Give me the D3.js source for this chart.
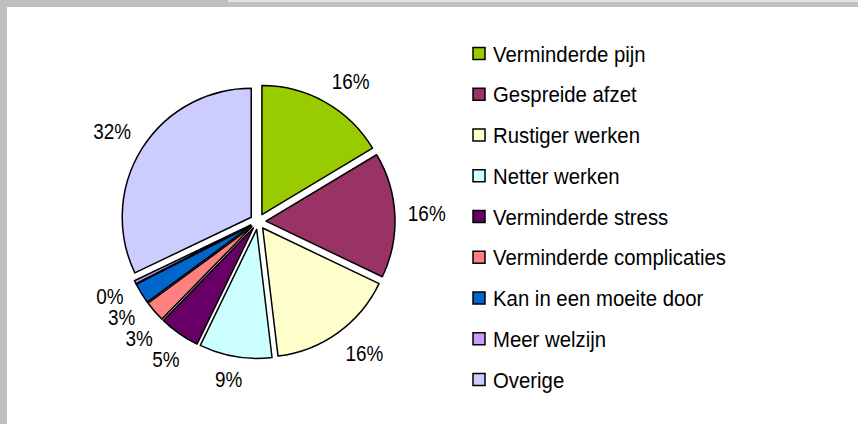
<!DOCTYPE html>
<html>
<head>
<meta charset="utf-8">
<script src="https://cdn.jsdelivr.net/npm/d3@7"></script>
<style>
  html, body { margin: 0; padding: 0; background: #ffffff; }
  svg { display: block; }
  text { font-family: "Liberation Sans", Arial, sans-serif; fill: #000; }
</style>
</head>
<body>
<svg id="chart" width="858" height="424"></svg>
<script>
// ---- data ----
const categories = [
  "Verminderde pijn",
  "Gespreide afzet",
  "Rustiger werken",
  "Netter werken",
  "Verminderde stress",
  "Verminderde complicaties",
  "Kan in een moeite door",
  "Meer welzijn",
  "Overige"
];
const values = [16.4, 15.7, 16.0, 9.1, 5.1, 2.6, 2.6, 0.4, 32.1];
const colors = ["#99cc00", "#993366", "#ffffcc", "#ccffff", "#660066", "#ff8080", "#0066cc", "#cc99ff", "#ccccff"];

// ---- layout ----
const W = 858, H = 424;
const svg = d3.select("#chart");

// frame
svg.append("rect").attr("x", 0).attr("y", 0).attr("width", W).attr("height", 7).attr("fill", "#c0c0c0");
svg.append("rect").attr("x", 0).attr("y", 0).attr("width", 7).attr("height", H).attr("fill", "#c0c0c0");
svg.append("rect").attr("x", 228).attr("y", 0).attr("width", W - 228).attr("height", 2).attr("fill", "#e4e4e4");

const cx = 258, cy = 221.5, R = 129, explode = 8, labelD = 150;
const total = d3.sum(values);
const pie = d3.pie().sort(null).value(d => d)(values);
const arc = d3.arc().innerRadius(0).outerRadius(R);

const g = svg.append("g").attr("transform", `translate(${cx},${cy})`);

g.selectAll("path.slice")
  .data(pie)
  .join("path")
  .attr("class", "slice")
  .attr("d", arc)
  .attr("transform", d => {
    const a = (d.startAngle + d.endAngle) / 2;
    return `translate(${explode * Math.sin(a)},${-explode * Math.cos(a)})`;
  })
  .attr("fill", (d, i) => colors[i])
  .attr("stroke", "#000")
  .attr("stroke-width", 1.5)
  .attr("stroke-linejoin", "round");

const fmt = v => Math.round(v / total * 100) + "%";
const LBL_SX = 0.86, LBL_FS = 22, MIN_GAP = 21;
const clamp = v => Math.max(-1, Math.min(1, v));

const labels = g.selectAll("text.lbl")
  .data(pie)
  .join("text")
  .attr("class", "lbl")
  .attr("text-anchor", "middle")
  .attr("dy", "0.35em")
  .attr("font-size", LBL_FS)
  .text(d => fmt(d.data));

// initial positions
const pos = [];
labels.each(function(d, i) {
  const a = (d.startAngle + d.endAngle) / 2;
  const ux = Math.sin(a), uy = -Math.cos(a);
  const hw = this.getComputedTextLength() * LBL_SX / 2;
  const hh = 10;
  pos[i] = { x: labelD * ux + hw * clamp(2 * ux), y: labelD * uy + hh * clamp(2 * uy), ux, uy };
});
// resolve overlaps on the lower-left side: push labels downward, sliding along their circle
const lowerLeft = pos.filter(p => p.ux < -0.3 && p.uy > 0).sort((a, b) => a.y - b.y);
for (let k = 1; k < lowerLeft.length; k++) {
  const p = lowerLeft[k];
  if (p.y - lowerLeft[k - 1].y < MIN_GAP) {
    const dist = Math.hypot(p.x, p.y);
    p.y = lowerLeft[k - 1].y + MIN_GAP;
    p.x = -Math.sqrt(Math.max(0, dist * dist - p.y * p.y));
  }
}
labels.attr("transform", (d, i) => `translate(${pos[i].x},${pos[i].y}) scale(${LBL_SX},1)`);

// legend
const legY = d3.scalePoint().domain(categories).range([54, 380]);
const leg = svg.append("g");
const item = leg.selectAll("g.item")
  .data(categories)
  .join("g")
  .attr("class", "item")
  .attr("transform", d => `translate(473,${legY(d)})`);
item.append("rect")
  .attr("x", 0).attr("y", -6.5)
  .attr("width", 12).attr("height", 12)
  .attr("fill", (d, i) => colors[i])
  .attr("stroke", "#000").attr("stroke-width", 1.5);
item.append("text")
  .attr("transform", "translate(20,0) scale(0.925,1)")
  .attr("dy", "0.35em")
  .attr("font-size", 22)
  .text(d => d);
</script>
</body>
</html>
